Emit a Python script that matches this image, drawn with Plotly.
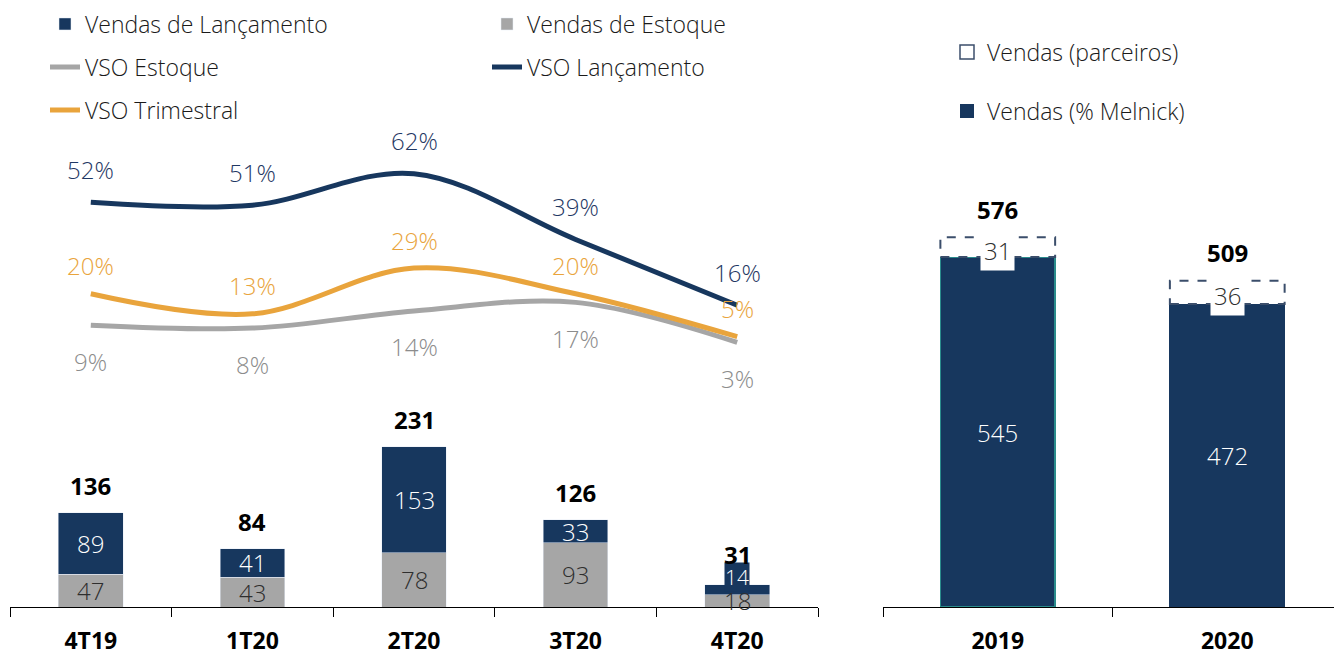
import plotly.graph_objects as go

# ---------------- data ----------------
cats = ['4T19', '1T20', '2T20', '3T20', '4T20']
vendas_estoque = [47, 43, 78, 93, 18]
vendas_lanc = [89, 41, 153, 33, 14]
vendas_total = [136, 84, 231, 126, 31]
vso_estoque = [9, 8, 14, 17, 3]
vso_lanc = [52, 51, 62, 39, 16]
vso_trim = [20, 13, 29, 20, 5]

anos = ['2019', '2020']
vendas_melnick = [545, 472]
vendas_parceiros = [31, 36]
vendas_ano_total = [576, 509]

# ---------------- style ----------------
W, H = 1342, 655
OFF = 8  # page body margin
NAVY = '#17375E'
GRAY = '#A6A6A6'
ORANGE = '#E9A43C'
TEAL = '#2A8C8C'
DASH = '#3B4E6B'
FONT = 'Open Sans'
FS_LEG = 23
FS_LAB = 24
FS_TOT = 24
FS_TICK = 23
LIGHT = 300

fig = go.Figure()

# left panel bars
fig.add_bar(x=cats, y=vendas_estoque, name='Vendas de Estoque', marker_color=GRAY,
            width=0.4, xaxis='x', yaxis='y', legend='legend2', hoverinfo='skip')
fig.add_bar(x=cats, y=vendas_lanc, name='Vendas de Lançamento', marker_color=NAVY,
            width=0.4, xaxis='x', yaxis='y', legend='legend', hoverinfo='skip')

# lines
fig.add_scatter(x=cats, y=vso_estoque, name='VSO Estoque', mode='lines',
                line=dict(color=GRAY, width=5, shape='spline', smoothing=1),
                xaxis='x', yaxis='y2', legend='legend3')
fig.add_scatter(x=cats, y=vso_trim, name='VSO Trimestral', mode='lines',
                line=dict(color=ORANGE, width=5, shape='spline', smoothing=1),
                xaxis='x', yaxis='y2', legend='legend5')
fig.add_scatter(x=cats, y=vso_lanc, name='VSO Lançamento', mode='lines',
                line=dict(color=NAVY, width=5, shape='spline', smoothing=1),
                xaxis='x', yaxis='y2', legend='legend4')

# right panel bars
fig.add_bar(x=anos, y=vendas_melnick, name='Vendas (% Melnick)', marker_color=NAVY,
            marker_line=dict(color=[TEAL, NAVY], width=1.5),
            width=0.5, xaxis='x3', yaxis='y3', showlegend=False, hoverinfo='skip')
fig.add_bar(x=anos, y=vendas_parceiros, name='Vendas (parceiros)', marker_color='white',
            marker_line=dict(color='white', width=0),
            width=0.5, xaxis='x3', yaxis='y3', showlegend=False, hoverinfo='skip')
fig.add_scatter(x=[None], y=[None], name='Vendas (parceiros)', mode='markers',
                marker=dict(symbol='square-open', size=14, color=DASH, line=dict(width=1.5)),
                xaxis='x3', yaxis='y3', legend='legend6')
fig.add_scatter(x=[None], y=[None], name='Vendas (% Melnick)', mode='markers',
                marker=dict(symbol='square', size=14, color=NAVY, line=dict(width=0)),
                xaxis='x3', yaxis='y3', legend='legend7')

# dashed outlines for partner sales
shapes = []
for i in range(len(anos)):
    shapes.append(dict(type='rect', xref='x3', yref='y3', x0=i - 0.25, x1=i + 0.25,
                       y0=vendas_melnick[i], y1=vendas_melnick[i] + vendas_parceiros[i],
                       line=dict(color=DASH, width=2, dash='dash'), layer='above'))

ann = []
# left bar labels
for i, c in enumerate(cats):
    ann.append(dict(x=i, y=vendas_estoque[i] / 2, xref='x', yref='y', text=str(vendas_estoque[i]),
                    showarrow=False, font=dict(family=FONT, size=FS_LAB, color='#2E2E2E', weight=LIGHT)))
    small = vendas_lanc[i] < 20
    if small:
        ann.append(dict(x=i, y=vendas_estoque[i] + vendas_lanc[i], xref='x', yref='y',
                        text=str(vendas_lanc[i]), showarrow=False, yshift=8,
                        bgcolor=NAVY, borderpad=0,
                        font=dict(family=FONT, size=FS_LAB - 3, color='white', weight=LIGHT)))
    else:
        ann.append(dict(x=i, y=vendas_estoque[i] + vendas_lanc[i] / 2, xref='x', yref='y',
                        text=str(vendas_lanc[i]), showarrow=False,
                        font=dict(family=FONT, size=FS_LAB, color='white', weight=LIGHT)))
    ann.append(dict(x=i, y=vendas_estoque[i] + vendas_lanc[i], xref='x', yref='y',
                    text=str(vendas_total[i]), showarrow=False, yanchor='bottom',
                    yshift=12 if small else 9,
                    font=dict(family=FONT, size=FS_TOT, color='black', weight='bold')))

# line labels
for series, color, shift in [(vso_lanc, '#1F3864', 33), (vso_trim, ORANGE, 28),
                             (vso_estoque, '#8C8C8C', -36)]:
    for i, c in enumerate(cats):
        ann.append(dict(x=i, y=series[i], xref='x', yref='y2', text=f'{series[i]}%',
                        showarrow=False, yshift=shift,
                        font=dict(family=FONT, size=FS_LAB, color=color, weight=LIGHT)))

# right bar labels
for i, a in enumerate(anos):
    ann.append(dict(x=i, y=vendas_melnick[i] / 2, xref='x3', yref='y3', text=str(vendas_melnick[i]),
                    showarrow=False, font=dict(family=FONT, size=FS_LAB, color='white', weight=LIGHT)))
    ann.append(dict(x=i, y=vendas_melnick[i] + vendas_parceiros[i] / 2, xref='x3', yref='y3',
                    text=str(vendas_parceiros[i]), showarrow=False, bgcolor='white', borderpad=3,
                    yshift=-3,
                    font=dict(family=FONT, size=FS_LAB, color='#2E2E2E', weight=LIGHT)))
    ann.append(dict(x=i, y=vendas_ano_total[i], xref='x3', yref='y3', text=str(vendas_ano_total[i]),
                    showarrow=False, yanchor='bottom', yshift=9,
                    font=dict(family=FONT, size=FS_TOT, color='black', weight='bold')))

# geometry (reference pixels -> figure pixels, page has an 8px body margin)
base_px = 607 - OFF
base = (H - base_px) / H
axis_common = dict(type='category', tickson='boundaries', ticks='outside', ticklen=9,
                   tickcolor='black', showline=True, linecolor='black', linewidth=1,
                   showgrid=False, zeroline=False, ticklabelstandoff=13,
                   tickfont=dict(family=FONT, size=FS_TICK, color='black', weight='bold'))

def leg(x, y):
    return dict(x=(x - OFF) / W, y=1 - (y - OFF) / H, xanchor='left', yanchor='middle',
                bgcolor='rgba(0,0,0,0)', borderwidth=0,
                font=dict(family=FONT, size=FS_LEG, color='#1A1A1A', weight=LIGHT))

zero_line_px = 351 - OFF
pct_px = 2.86

fig.update_layout(
    width=W, height=H, margin=dict(l=0, r=0, t=0, b=0, autoexpand=False),
    paper_bgcolor='white', plot_bgcolor='white', barmode='stack',
    xaxis=dict(domain=[(10 - OFF) / W, (818 - OFF) / W], range=[-0.5, 4.5], anchor='y', **axis_common),
    yaxis=dict(domain=[base, 1], range=[0, base_px / 0.693], visible=False),
    yaxis2=dict(domain=[base, 1], range=[-(base_px - zero_line_px) / pct_px, zero_line_px / pct_px],
                overlaying='y', visible=False),
    xaxis3=dict(domain=[(883 - OFF) / W, (1342 - OFF) / W], range=[-0.5, 1.5], anchor='y3', **axis_common),
    yaxis3=dict(domain=[base, 1], range=[0, base_px / 0.642], anchor='x3', visible=False),
    legend=leg(45, 24), legend2=leg(487, 24), legend3=leg(45, 67), legend4=leg(487, 67),
    legend5=leg(45, 110), legend6=leg(947, 52), legend7=leg(947, 111),
    shapes=shapes, annotations=ann, showlegend=True,
)

fig.write_html('out.html')
